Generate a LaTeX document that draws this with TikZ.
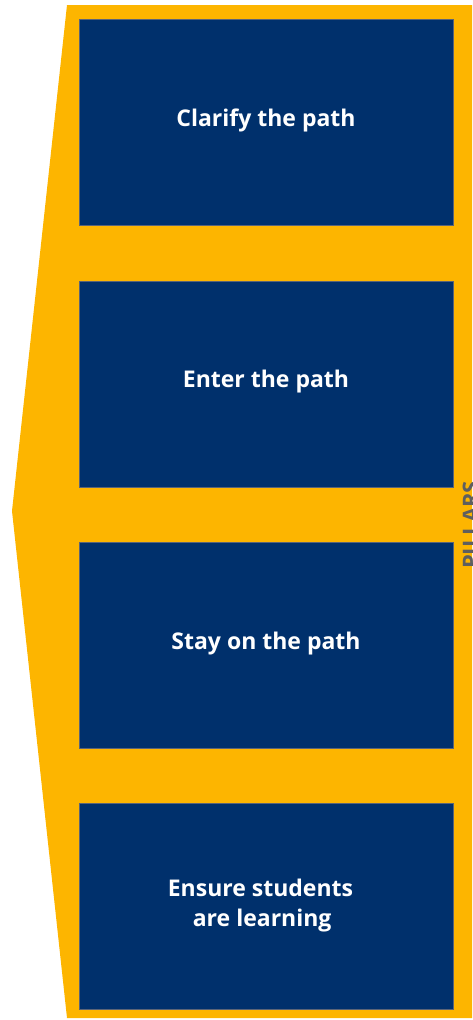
\documentclass[tikz,border=0pt]{standalone}
\usepackage{fontspec}
\setmainfont{Open Sans}
\definecolor{gold}{RGB}{253,181,0}
\definecolor{navy}{RGB}{0,48,108}
\definecolor{edge}{RGB}{90,100,120}
\definecolor{pgrey}{RGB}{95,95,95}
\begin{document}
\begin{tikzpicture}[x=1pt,y=-1pt,
  pillarbox/.style={fill=navy,draw=edge,line width=0.6pt,minimum width=374pt,minimum height=206pt,inner sep=0pt},
  lbl/.style={text=white,font=\fontsize{23}{30}\selectfont\bfseries,align=center}]
\useasboundingbox (0,0) rectangle (472,1020);
\clip (0,0) rectangle (472,1020);
\fill[gold] (67,5) -- (480,5) -- (480,1018) -- (67,1018) -- (12,511) -- cycle;
\node[pillarbox] (b1) at (266,122) {};
\node[pillarbox] (b2) at (266,384) {};
\node[pillarbox] (b3) at (266,645.5) {};
\node[pillarbox] (b4) at (266,906.5) {};
\node[lbl] (t1) at ([yshift=2pt]b1.center) {Clarify the path};
\node[lbl] (t2) at ([yshift=2pt]b2.center) {Enter the path};
\node[lbl] (t3) at ([yshift=2pt]b3.center) {Stay on the path};
\node[lbl,align=left] (t4) at ([xshift=-5.5pt,yshift=1pt]b4.center) {Ensure students\\\hspace{25pt}are learning};
\node[rotate=90,anchor=base,text=pgrey,font=\fontsize{22}{24}\selectfont\bfseries] (p) at (478.5,525) {PILLARS};
\end{tikzpicture}
\end{document}
